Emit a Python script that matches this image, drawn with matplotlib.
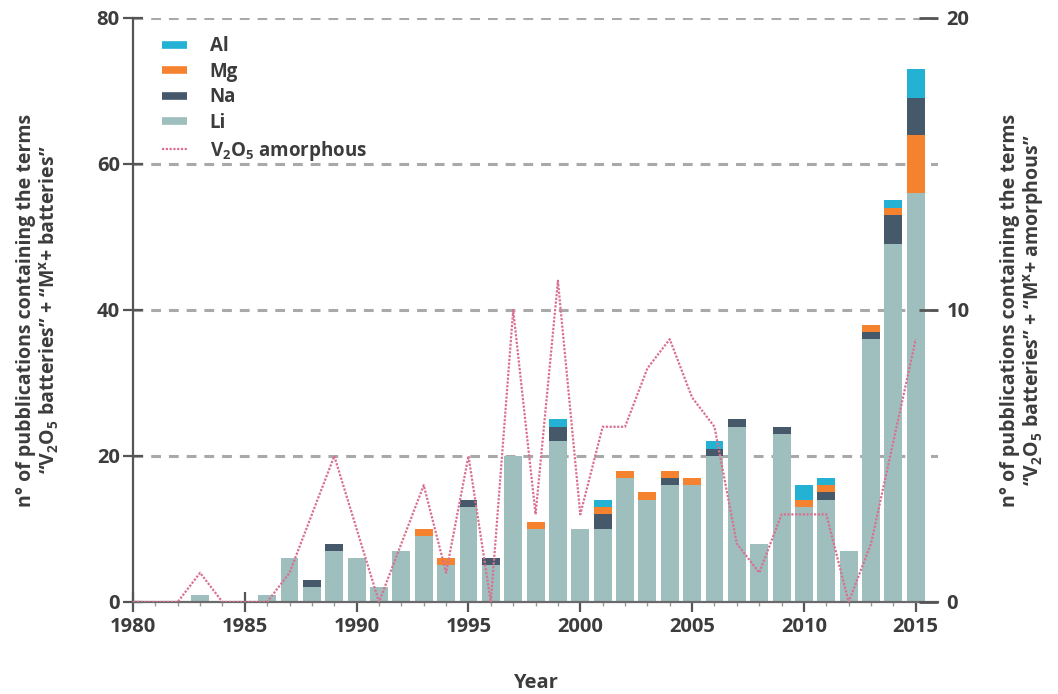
import matplotlib.pyplot as plt
import numpy as np
from matplotlib.lines import Line2D

plt.rcParams['font.family'] = ['Open Sans', 'DejaVu Sans']
plt.rcParams['font.weight'] = 'bold'
plt.rcParams['axes.labelweight'] = 'bold'
plt.rcParams['mathtext.fontset'] = 'custom'
plt.rcParams['mathtext.bf'] = 'Open Sans:bold'
plt.rcParams['mathtext.rm'] = 'Open Sans:bold'
plt.rcParams['mathtext.default'] = 'bf'

# datos
years = list(range(1980, 2016))
li = [0, 0, 0, 1, 0, 0, 1, 6, 2, 7, 6, 2, 7, 9, 5, 13, 5, 20, 10, 22,
      10, 10, 17, 14, 16, 16, 20, 24, 8, 23, 13, 14, 7, 36, 49, 56]
na = [0, 0, 0, 0, 0, 0, 0, 0, 1, 1, 0, 0, 0, 0, 0, 1, 1, 0, 0, 2,
      0, 2, 0, 0, 1, 0, 1, 1, 0, 1, 0, 1, 0, 1, 4, 5]
mg = [0, 0, 0, 0, 0, 0, 0, 0, 0, 0, 0, 0, 0, 1, 1, 0, 0, 0, 1, 0,
      0, 1, 1, 1, 1, 1, 0, 0, 0, 0, 1, 1, 0, 1, 1, 8]
al = [0, 0, 0, 0, 0, 0, 0, 0, 0, 0, 0, 0, 0, 0, 0, 0, 0, 0, 0, 1,
      0, 1, 0, 0, 0, 0, 1, 0, 0, 0, 2, 1, 0, 0, 1, 4]
amorphous = [0, 0, 0, 1, 0, 0, 0, 1, 3, 5, 2.5, 0, 2, 4, 1, 5, 0, 10, 3, 11,
             3, 6, 6, 8, 9, 7, 6, 2, 1, 3, 3, 3, 0, 2, 5.5, 9]

series = {'Li': li, 'Na': na, 'Mg': mg, 'Al': al}
colors = {'Li': '#9fbfbf', 'Na': '#46596b', 'Mg': '#f4822e', 'Al': '#23b2d4'}
default_order = ['Li', 'Na', 'Mg', 'Al']
special_order = {2015: ['Li', 'Mg', 'Na', 'Al']}

bottoms = {k: np.zeros(len(years)) for k in series}
for i, yr in enumerate(years):
    b = 0
    for k in special_order.get(yr, default_order):
        bottoms[k][i] = b
        b += series[k][i]

txt = '#3c3c3c'
pink = '#d9708f'
fig = plt.figure(figsize=(10.58, 6.94), dpi=100)
ax = fig.add_axes([0.1257, 0.1326, 0.761, 0.8415])
ax2 = ax.twinx()

for y in [20, 40, 60, 80]:
    ax.axhline(y, color='#a9a9a9', lw=2.2, dashes=(3.2, 2.6), zorder=0)

for k in default_order:
    vals = np.array(series[k])
    ax.bar(years, vals, bottom=bottoms[k], width=0.8, color=colors[k],
           linewidth=0, zorder=2)

ax2.plot(years, amorphous, color=pink, lw=1.6, ls=(0, (1, 0.7)), zorder=3)

ax.set_xlim(1980, 2016)
ax.set_ylim(0, 80)
ax2.set_ylim(0, 20)
ax.set_xticks(range(1980, 2016, 5))
ax.set_xticks(years, minor=True)
ax.set_yticks([0, 20, 40, 60, 80])
ax2.set_yticks([0, 10, 20])

for a in (ax, ax2):
    for s in ['top', 'right']:
        a.spines[s].set_visible(False)
ax2.spines['left'].set_visible(False)
ax2.spines['bottom'].set_visible(False)
ax.spines['left'].set_color('#555555')
ax.spines['left'].set_linewidth(1.6)
ax.spines['bottom'].set_color('#6a6a6a')
ax.spines['bottom'].set_linewidth(1.6)

ax.tick_params(axis='y', direction='inout', length=15, width=1.6,
               color='#555555', labelsize=14.5, labelcolor=txt, pad=2)
ax.tick_params(axis='x', which='major', direction='inout', length=14,
               width=1.6, color='#555555', labelsize=14.5, labelcolor=txt, pad=4)
ax.tick_params(axis='x', which='minor', direction='out', length=3,
               width=1, color='#9a9a9a')
ax2.tick_params(axis='y', direction='in', length=14, width=2,
                color='#555555', labelsize=14.5, labelcolor=txt, pad=6)

ax.set_xlabel('Year', fontsize=14.5, color=txt, labelpad=26)
ax.set_ylabel('n° of pubblications containing the terms\n'
              '“V$_2$O$_5$ batteries” + “M$^x$+ batteries”',
              fontsize=14, color=txt, labelpad=26, linespacing=1.05)
ax2.set_ylabel('n° of pubblications containing the terms\n'
               '“V$_2$O$_5$ batteries” + “M$^x$+ amorphous”',
               fontsize=14, color=txt, labelpad=22, linespacing=1.05)

handles = [Line2D([], [], color=colors['Al'], lw=5.5, solid_capstyle='butt'),
           Line2D([], [], color=colors['Mg'], lw=5.5, solid_capstyle='butt'),
           Line2D([], [], color=colors['Na'], lw=5.5, solid_capstyle='butt'),
           Line2D([], [], color=colors['Li'], lw=5.5, solid_capstyle='butt'),
           Line2D([], [], color=pink, lw=1.6, ls=(0, (1, 0.7)))]
labels = ['Al', 'Mg', 'Na', 'Li', 'V$_2$O$_5$ amorphous']
leg = ax2.legend(handles, labels, loc='upper left', bbox_to_anchor=(0.024, 0.985),
                 frameon=False, fontsize=13.5, handlelength=1.35,
                 handletextpad=1.2, labelspacing=0.3, borderpad=0)
for t in leg.get_texts():
    t.set_color(txt)

fig.savefig('out.png', dpi=100)
